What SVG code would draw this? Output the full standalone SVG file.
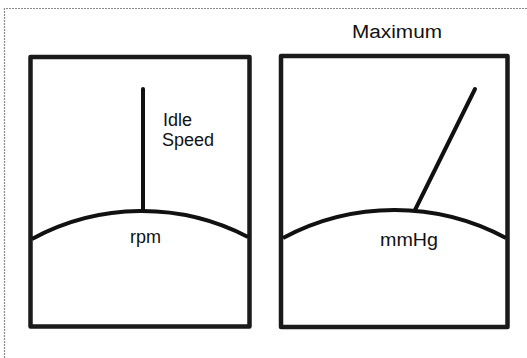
<svg xmlns="http://www.w3.org/2000/svg" width="527" height="358" viewBox="0 0 527 358">
<style>
.frame{fill:none;stroke:#1a1a1a;stroke-width:4.5;stroke-linejoin:round}
.arc{fill:none;stroke:#111;stroke-width:4}
.needle{stroke:#111;stroke-width:4;stroke-linecap:round}
.lbl{font-family:"Liberation Sans",Arial,sans-serif;font-size:18px;fill:#111}
</style>
<rect width="527" height="358" fill="#fff"/>
<path d="M4.5,358 V8.5 H527" fill="none" stroke="#8a8a8a" stroke-width="1.2" stroke-dasharray="2 1"/>
<g id="title">
<text class="lbl" x="352" y="38" font-size="17" textLength="90" lengthAdjust="spacingAndGlyphs">Maximum</text>
</g>
<g id="gauge-rpm">
<rect class="frame" x="30.5" y="57" width="219" height="269.5"/>
<path class="arc" d="M32,239 A230,230 0 0 1 248,237"/>
<text class="lbl" x="130" y="243" textLength="31" lengthAdjust="spacingAndGlyphs">rpm</text>
</g>
<g id="gauge-mmhg">
<rect class="frame" x="281" y="56" width="226.5" height="271"/>
<path class="arc" d="M283,238 A236,236 0 0 1 506,238"/>
<text class="lbl" x="380" y="246" textLength="58" lengthAdjust="spacingAndGlyphs">mmHg</text>
</g>
<g id="connectors">
<line class="needle" x1="143" y1="89" x2="143" y2="211"/>
<line class="needle" x1="415" y1="210" x2="475" y2="89"/>
</g>
<g id="idle-label">
<text class="lbl" x="163" y="126">Idle</text>
<text class="lbl" x="162" y="146">Speed</text>
</g>
</svg>
